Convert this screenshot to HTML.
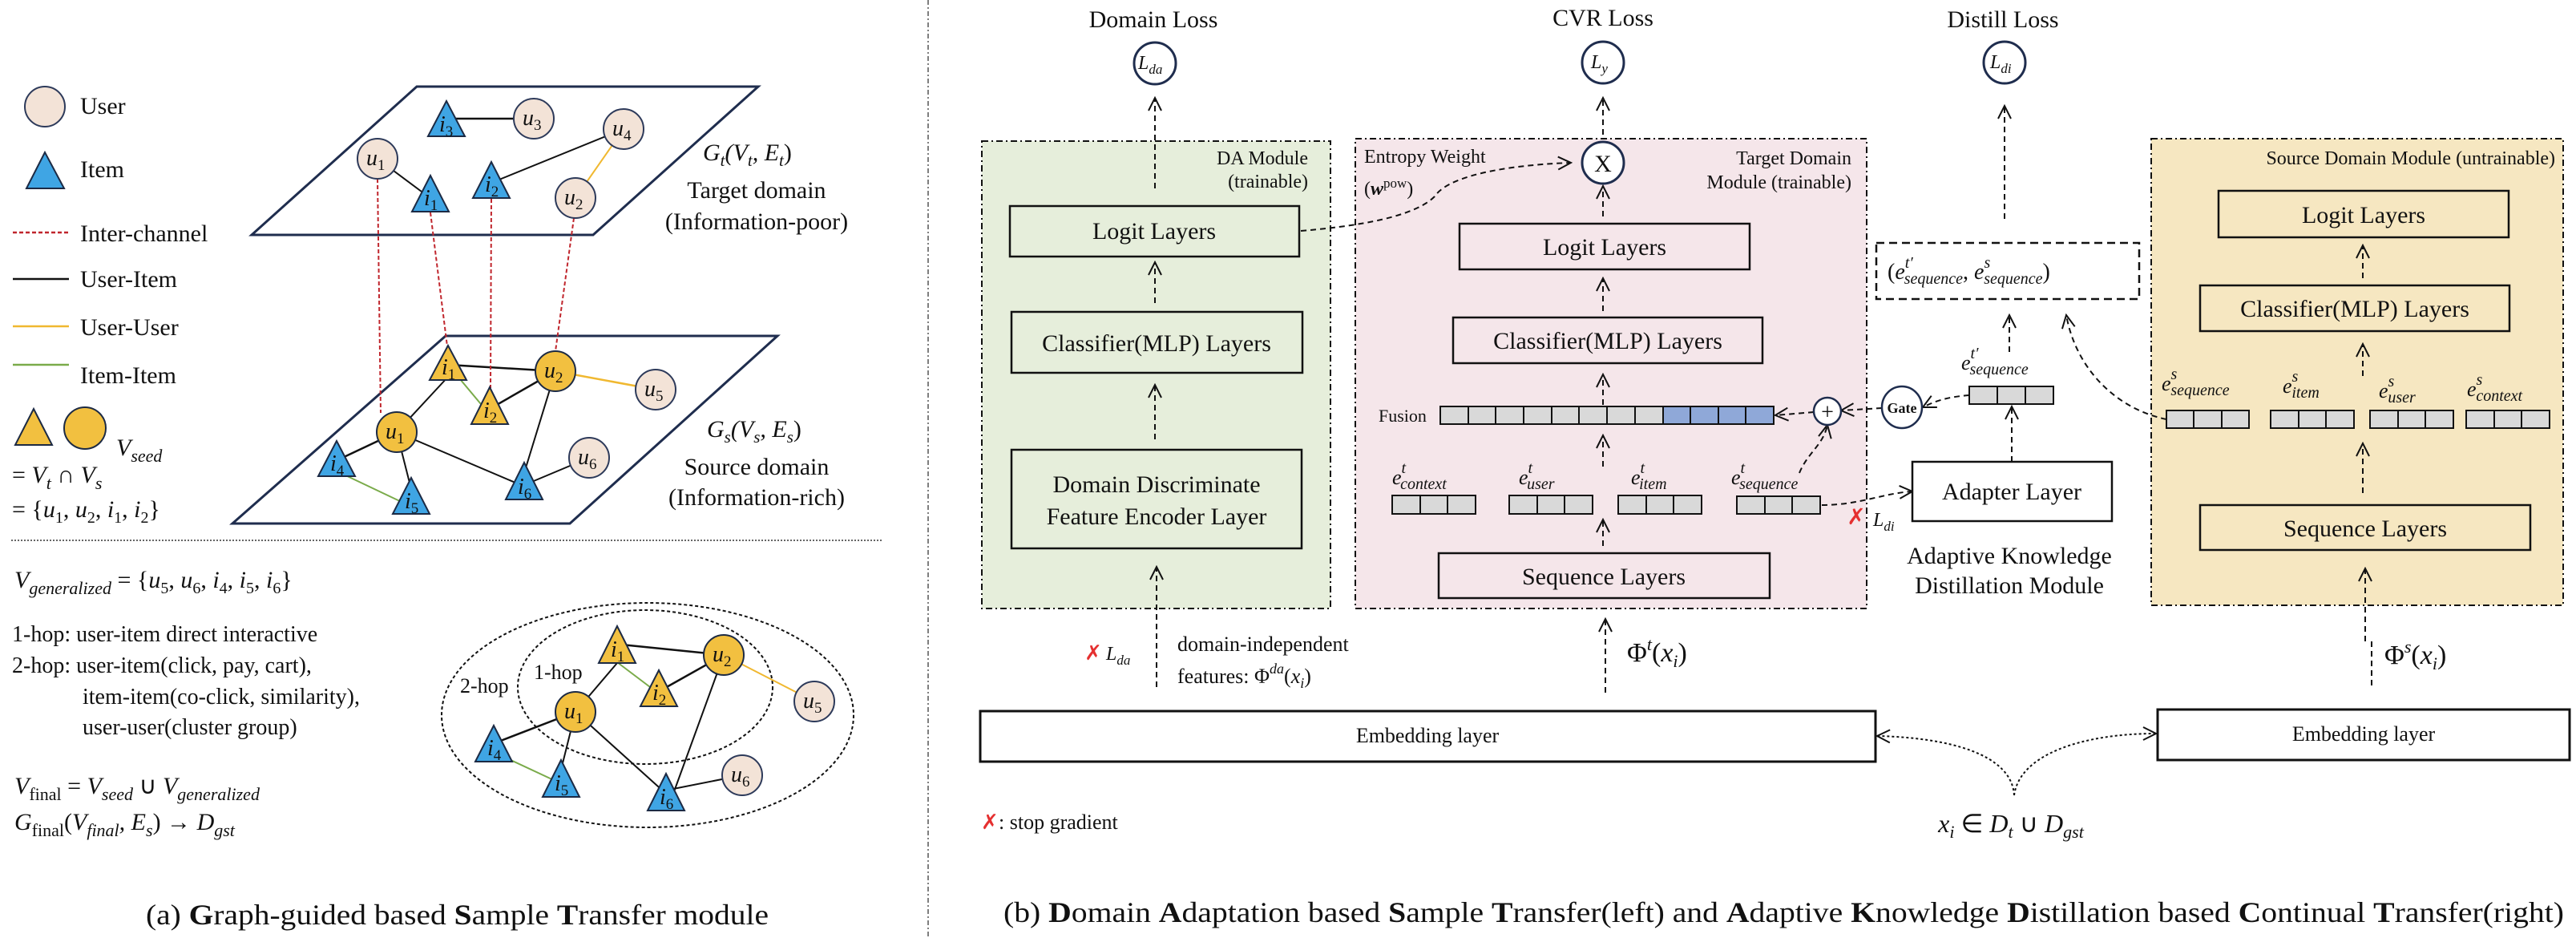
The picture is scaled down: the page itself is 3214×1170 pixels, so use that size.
<!DOCTYPE html>
<html><head><meta charset="utf-8"><style>
html,body{margin:0;padding:0;background:#fff}
svg{display:block}
text{font-family:"Liberation Serif",serif;fill:#111}
.it{font-style:italic}
</style></head><body>
<svg width="3214" height="1170" viewBox="0 0 3214 1170" xmlns="http://www.w3.org/2000/svg">
<defs>
<marker id="ah" viewBox="0 0 20 20" refX="18" refY="10" markerWidth="20" markerHeight="20" markerUnits="userSpaceOnUse" orient="auto"><path d="M2,2 L18,10 L2,18" fill="none" stroke="#111" stroke-width="2"/></marker>
</defs>

<!-- ============ LEFT PANEL ============ -->
<!-- legend -->
<ellipse cx="56" cy="133" rx="25" ry="25" fill="#f3e3d7" stroke="#2d3a5a" stroke-width="2"/>
<text x="100" y="142" font-size="30">User</text>
<polygon points="56,190 33,235 80,235" fill="#3fa5e4" stroke="#1c2a44" stroke-width="2"/>
<text x="100" y="221" font-size="30">Item</text>
<line x1="16" y1="290" x2="86" y2="290" stroke="#c0262d" stroke-width="2.5" stroke-dasharray="5,3"/>
<text x="100" y="301" font-size="30">Inter-channel</text>
<line x1="16" y1="348" x2="86" y2="348" stroke="#111" stroke-width="2.5"/>
<text x="100" y="358" font-size="30">User-Item</text>
<line x1="16" y1="407" x2="86" y2="407" stroke="#f0b830" stroke-width="2.5"/>
<text x="100" y="418" font-size="30">User-User</text>
<line x1="16" y1="455" x2="86" y2="455" stroke="#7aab4a" stroke-width="2.5"/>
<text x="100" y="478" font-size="30">Item-Item</text>
<polygon points="42,510 19,555 65,555" fill="#f2c040" stroke="#1c2a44" stroke-width="2"/>
<circle cx="106" cy="534" r="26" fill="#f2c040" stroke="#1c2a44" stroke-width="2"/>
<text x="145" y="568" font-size="30" class="it">V<tspan font-size="22" dy="8">seed</tspan></text>
<text x="15" y="602" font-size="30">= <tspan class="it">V</tspan><tspan class="it" font-size="22" dy="8">t</tspan><tspan dy="-8"> ∩ </tspan><tspan class="it">V</tspan><tspan class="it" font-size="22" dy="8">s</tspan></text>
<text x="15" y="645" font-size="30">= {<tspan class="it">u</tspan><tspan font-size="20" dy="7">1</tspan><tspan dy="-7">, </tspan><tspan class="it">u</tspan><tspan font-size="20" dy="7">2</tspan><tspan dy="-7">, </tspan><tspan class="it">i</tspan><tspan font-size="20" dy="7">1</tspan><tspan dy="-7">, </tspan><tspan class="it">i</tspan><tspan font-size="20" dy="7">2</tspan><tspan dy="-7">}</tspan></text>

<!-- planes -->
<polygon points="520,108 946,108 740,293 314,293" fill="none" stroke="#1f2d4e" stroke-width="3"/>
<polygon points="556,419 970,419 711,653 290,653" fill="none" stroke="#1f2d4e" stroke-width="3"/>

<!-- target edges -->
<line x1="557" y1="148" x2="666" y2="148" stroke="#111" stroke-width="2.5"/>
<line x1="471" y1="198" x2="530" y2="242" stroke="#111" stroke-width="2"/>
<line x1="613" y1="228" x2="778" y2="161" stroke="#111" stroke-width="2"/>
<line x1="778" y1="161" x2="718" y2="247" stroke="#f0b830" stroke-width="2"/>
<!-- source edges -->
<line x1="559" y1="455" x2="693" y2="463" stroke="#111" stroke-width="2.5"/>
<line x1="693" y1="463" x2="818" y2="486" stroke="#f0b830" stroke-width="2.5"/>
<line x1="559" y1="455" x2="605" y2="510" stroke="#7aab4a" stroke-width="2"/>
<line x1="611" y1="510" x2="693" y2="463" stroke="#111" stroke-width="2.5"/>
<line x1="559" y1="470" x2="495" y2="539" stroke="#111" stroke-width="2"/>
<line x1="495" y1="539" x2="425" y2="572" stroke="#111" stroke-width="2.5"/>
<line x1="495" y1="539" x2="513" y2="610" stroke="#111" stroke-width="2"/>
<line x1="425" y1="590" x2="505" y2="628" stroke="#7aab4a" stroke-width="2"/>
<line x1="495" y1="539" x2="650" y2="605" stroke="#111" stroke-width="2"/>
<line x1="693" y1="463" x2="654" y2="590" stroke="#111" stroke-width="2"/>
<line x1="654" y1="605" x2="735" y2="571" stroke="#111" stroke-width="2"/>
<!-- inter-channel -->
<g stroke="#c0262d" stroke-width="2" stroke-dasharray="5,3">
<line x1="471" y1="223" x2="475" y2="515"/>
<line x1="537" y1="265" x2="558" y2="432"/>
<line x1="613" y1="248" x2="612" y2="484"/>
<line x1="716" y1="272" x2="693" y2="438"/>
</g>

<!-- target nodes -->
<g font-size="28" class="it">
<polygon points="557,126 534,170 580,170" fill="#3fa5e4" stroke="#1c2a44" stroke-width="2"/>
<text x="548" y="164">i<tspan font-size="19" dy="6" font-style="normal">3</tspan></text>
<circle cx="666" cy="148" r="25" fill="#f3e3d7" stroke="#2d3a5a" stroke-width="2"/>
<text x="652" y="156">u<tspan font-size="19" dy="6" font-style="normal">3</tspan></text>
<circle cx="471" cy="198" r="25" fill="#f3e3d7" stroke="#2d3a5a" stroke-width="2"/>
<text x="457" y="206">u<tspan font-size="19" dy="6" font-style="normal">1</tspan></text>
<polygon points="537,219 514,264 560,264" fill="#3fa5e4" stroke="#1c2a44" stroke-width="2"/>
<text x="529" y="256">i<tspan font-size="19" dy="6" font-style="normal">1</tspan></text>
<polygon points="613,202 590,247 636,247" fill="#3fa5e4" stroke="#1c2a44" stroke-width="2"/>
<text x="605" y="239">i<tspan font-size="19" dy="6" font-style="normal">2</tspan></text>
<circle cx="778" cy="161" r="25" fill="#f3e3d7" stroke="#2d3a5a" stroke-width="2"/>
<text x="764" y="169">u<tspan font-size="19" dy="6" font-style="normal">4</tspan></text>
<circle cx="718" cy="247" r="25" fill="#f3e3d7" stroke="#2d3a5a" stroke-width="2"/>
<text x="704" y="255">u<tspan font-size="19" dy="6" font-style="normal">2</tspan></text>

<!-- source nodes -->
<polygon points="559,431 536,474 582,474" fill="#f2c040" stroke="#1c2a44" stroke-width="2"/>
<text x="551" y="467">i<tspan font-size="19" dy="6" font-style="normal">1</tspan></text>
<circle cx="693" cy="463" r="25" fill="#f2c040" stroke="#1c2a44" stroke-width="2"/>
<text x="679" y="471">u<tspan font-size="19" dy="6" font-style="normal">2</tspan></text>
<circle cx="818" cy="486" r="25" fill="#f3e3d7" stroke="#2d3a5a" stroke-width="2"/>
<text x="804" y="494">u<tspan font-size="19" dy="6" font-style="normal">5</tspan></text>
<polygon points="611,483 588,529 634,529" fill="#f2c040" stroke="#1c2a44" stroke-width="2"/>
<text x="603" y="521">i<tspan font-size="19" dy="6" font-style="normal">2</tspan></text>
<circle cx="495" cy="539" r="25" fill="#f2c040" stroke="#1c2a44" stroke-width="2"/>
<text x="481" y="547">u<tspan font-size="19" dy="6" font-style="normal">1</tspan></text>
<polygon points="420,550 397,594 443,594" fill="#3fa5e4" stroke="#1c2a44" stroke-width="2"/>
<text x="412" y="587">i<tspan font-size="19" dy="6" font-style="normal">4</tspan></text>
<polygon points="513,596 490,641 536,641" fill="#3fa5e4" stroke="#1c2a44" stroke-width="2"/>
<text x="505" y="634">i<tspan font-size="19" dy="6" font-style="normal">5</tspan></text>
<polygon points="654,577 631,623 677,623" fill="#3fa5e4" stroke="#1c2a44" stroke-width="2"/>
<text x="646" y="616">i<tspan font-size="19" dy="6" font-style="normal">6</tspan></text>
<circle cx="735" cy="571" r="25" fill="#f3e3d7" stroke="#2d3a5a" stroke-width="2"/>
<text x="721" y="579">u<tspan font-size="19" dy="6" font-style="normal">6</tspan></text>
</g>

<!-- plane labels -->
<text x="877" y="200" font-size="30" class="it">G<tspan font-size="21" dy="7">t</tspan><tspan dy="-7">(V</tspan><tspan font-size="21" dy="7">t</tspan><tspan dy="-7">, E</tspan><tspan font-size="21" dy="7">t</tspan><tspan dy="-7" font-style="normal">)</tspan></text>
<text x="944" y="247" font-size="30" text-anchor="middle">Target domain</text>
<text x="944" y="286" font-size="30" text-anchor="middle">(Information-poor)</text>
<text x="882" y="545" font-size="30" class="it">G<tspan font-size="21" dy="7">s</tspan><tspan dy="-7">(V</tspan><tspan font-size="21" dy="7">s</tspan><tspan dy="-7">, E</tspan><tspan font-size="21" dy="7">s</tspan><tspan dy="-7" font-style="normal">)</tspan></text>
<text x="944" y="592" font-size="30" text-anchor="middle">Source domain</text>
<text x="944" y="630" font-size="30" text-anchor="middle">(Information-rich)</text>

<!-- divider -->
<line x1="14" y1="674" x2="1100" y2="674" stroke="#333" stroke-width="1.5" stroke-dasharray="2,2"/>

<text x="18" y="733" font-size="30" class="it">V<tspan font-size="22" dy="8">generalized</tspan><tspan dy="-8" font-style="normal"> = {</tspan>u<tspan font-size="20" dy="7" font-style="normal">5</tspan><tspan dy="-7" font-style="normal">, </tspan>u<tspan font-size="20" dy="7" font-style="normal">6</tspan><tspan dy="-7" font-style="normal">, </tspan>i<tspan font-size="20" dy="7" font-style="normal">4</tspan><tspan dy="-7" font-style="normal">, </tspan>i<tspan font-size="20" dy="7" font-style="normal">5</tspan><tspan dy="-7" font-style="normal">, </tspan>i<tspan font-size="20" dy="7" font-style="normal">6</tspan><tspan dy="-7" font-style="normal">}</tspan></text>
<text x="15" y="800" font-size="28">1-hop: user-item direct interactive</text>
<text x="15" y="839" font-size="28">2-hop: user-item(click, pay, cart),</text>
<text x="103" y="878" font-size="28">item-item(co-click, similarity),</text>
<text x="103" y="916" font-size="28">user-user(cluster group)</text>
<text x="18" y="990" font-size="30" class="it">V<tspan font-size="22" dy="8" font-style="normal">final</tspan><tspan dy="-8" font-style="normal"> = </tspan>V<tspan font-size="22" dy="8">seed</tspan><tspan dy="-8" font-style="normal"> ∪ </tspan>V<tspan font-size="22" dy="8">generalized</tspan></text>
<text x="18" y="1035" font-size="30" class="it">G<tspan font-size="22" dy="8" font-style="normal">final</tspan><tspan dy="-8" font-style="normal">(</tspan>V<tspan font-size="22" dy="8">final</tspan><tspan dy="-8">, E</tspan><tspan font-size="22" dy="8">s</tspan><tspan dy="-8" font-style="normal">) → </tspan>D<tspan font-size="22" dy="8">gst</tspan></text>

<!-- hop diagram -->
<ellipse cx="808" cy="892" rx="257" ry="140" fill="none" stroke="#111" stroke-width="2" stroke-dasharray="4,3"/>
<ellipse cx="805" cy="857" rx="159" ry="96" fill="none" stroke="#111" stroke-width="2" stroke-dasharray="4,3"/>
<text x="666" y="847" font-size="26">1-hop</text>
<text x="574" y="864" font-size="26">2-hop</text>
<line x1="775" y1="804" x2="903" y2="817" stroke="#111" stroke-width="2.5"/>
<line x1="770" y1="826" x2="815" y2="860" stroke="#7aab4a" stroke-width="2"/>
<line x1="830" y1="858" x2="903" y2="817" stroke="#111" stroke-width="2.5"/>
<line x1="770" y1="827" x2="718" y2="888" stroke="#111" stroke-width="2"/>
<line x1="903" y1="817" x2="1016" y2="875" stroke="#f0b830" stroke-width="2"/>
<line x1="718" y1="888" x2="622" y2="925" stroke="#111" stroke-width="2.5"/>
<line x1="718" y1="888" x2="700" y2="960" stroke="#111" stroke-width="2"/>
<line x1="620" y1="940" x2="695" y2="975" stroke="#7aab4a" stroke-width="2"/>
<line x1="718" y1="888" x2="831" y2="990" stroke="#111" stroke-width="2"/>
<line x1="903" y1="817" x2="840" y2="990" stroke="#111" stroke-width="2"/>
<line x1="835" y1="985" x2="926" y2="967" stroke="#111" stroke-width="2"/>
<g font-size="28" class="it">
<polygon points="770,781 747,827 793,827" fill="#f2c040" stroke="#1c2a44" stroke-width="2"/>
<text x="762" y="819">i<tspan font-size="19" dy="6" font-style="normal">1</tspan></text>
<circle cx="903" cy="817" r="25" fill="#f2c040" stroke="#1c2a44" stroke-width="2"/>
<text x="889" y="825">u<tspan font-size="19" dy="6" font-style="normal">2</tspan></text>
<polygon points="822,836 799,881 845,881" fill="#f2c040" stroke="#1c2a44" stroke-width="2"/>
<text x="814" y="873">i<tspan font-size="19" dy="6" font-style="normal">2</tspan></text>
<circle cx="718" cy="888" r="25" fill="#f2c040" stroke="#1c2a44" stroke-width="2"/>
<text x="704" y="896">u<tspan font-size="19" dy="6" font-style="normal">1</tspan></text>
<circle cx="1016" cy="875" r="25" fill="#f3e3d7" stroke="#2d3a5a" stroke-width="2"/>
<text x="1002" y="883">u<tspan font-size="19" dy="6" font-style="normal">5</tspan></text>
<polygon points="616,905 593,950 639,950" fill="#3fa5e4" stroke="#1c2a44" stroke-width="2"/>
<text x="608" y="942">i<tspan font-size="19" dy="6" font-style="normal">4</tspan></text>
<polygon points="700,948 677,994 723,994" fill="#3fa5e4" stroke="#1c2a44" stroke-width="2"/>
<text x="692" y="986">i<tspan font-size="19" dy="6" font-style="normal">5</tspan></text>
<polygon points="831,965 808,1011 854,1011" fill="#3fa5e4" stroke="#1c2a44" stroke-width="2"/>
<text x="823" y="1003">i<tspan font-size="19" dy="6" font-style="normal">6</tspan></text>
<circle cx="926" cy="967" r="25" fill="#f3e3d7" stroke="#2d3a5a" stroke-width="2"/>
<text x="912" y="975">u<tspan font-size="19" dy="6" font-style="normal">6</tspan></text>
</g>

<text x="182" y="1153" font-size="36" textLength="777" lengthAdjust="spacingAndGlyphs">(a) <tspan font-weight="bold">G</tspan>raph-guided based <tspan font-weight="bold">S</tspan>ample <tspan font-weight="bold">T</tspan>ransfer module</text>

<!-- vertical separator -->
<line x1="1158" y1="0" x2="1158" y2="1170" stroke="#555" stroke-width="1.5" stroke-dasharray="6,3,2,3"/>

<!-- ============ RIGHT PANEL ============ -->
<!-- module backgrounds -->
<rect x="1225" y="176" width="435" height="583" fill="#e6eedb" stroke="#111" stroke-width="2" stroke-dasharray="8,4,2,4"/>
<rect x="1691" y="173" width="638" height="586" fill="#f5e6ea" stroke="#111" stroke-width="2" stroke-dasharray="8,4,2,4"/>
<rect x="2684" y="173" width="514" height="582" fill="#f6e7c1" stroke="#111" stroke-width="2" stroke-dasharray="8,4,2,4"/>

<!-- losses -->
<text x="1439" y="34" font-size="30" text-anchor="middle">Domain Loss</text>
<circle cx="1441" cy="79" r="26" fill="#fff" stroke="#1f2d4e" stroke-width="3"/>
<text x="1420" y="86" font-size="24" class="it">L<tspan font-size="17" dy="6">da</tspan></text>
<text x="2000" y="32" font-size="30" text-anchor="middle">CVR Loss</text>
<circle cx="2000" cy="78" r="26" fill="#fff" stroke="#1f2d4e" stroke-width="3"/>
<text x="1985" y="85" font-size="24" class="it">L<tspan font-size="17" dy="6">y</tspan></text>
<text x="2499" y="34" font-size="30" text-anchor="middle">Distill Loss</text>
<circle cx="2501" cy="78" r="26" fill="#fff" stroke="#1f2d4e" stroke-width="3"/>
<text x="2483" y="85" font-size="24" class="it">L<tspan font-size="17" dy="6">di</tspan></text>

<!-- dashed arrows -->
<g stroke="#111" stroke-width="2" stroke-dasharray="7,5" fill="none" marker-end="url(#ah)">
<line x1="1441" y1="235" x2="1441" y2="122"/>
<line x1="1441" y1="378" x2="1441" y2="327"/>
<line x1="1441" y1="548" x2="1441" y2="480"/>
<line x1="1443" y1="857" x2="1443" y2="707"/>
<line x1="2000" y1="168" x2="2000" y2="122"/>
<line x1="2000" y1="270" x2="2000" y2="232"/>
<line x1="2000" y1="388" x2="2000" y2="347"/>
<line x1="2000" y1="505" x2="2000" y2="467"/>
<line x1="2000" y1="582" x2="2000" y2="543"/>
<line x1="2000" y1="681" x2="2000" y2="648"/>
<line x1="2003" y1="864" x2="2003" y2="772"/>
<line x1="2501" y1="273" x2="2501" y2="132"/>
<line x1="2507" y1="439" x2="2507" y2="393"/>
<line x1="2510" y1="576" x2="2510" y2="507"/>
<line x1="2948" y1="347" x2="2948" y2="306"/>
<line x1="2948" y1="469" x2="2948" y2="429"/>
<line x1="2948" y1="615" x2="2948" y2="553"/>
<line x1="2951" y1="800" x2="2951" y2="709"/>
<path d="M1623,288 C1720,280 1770,265 1790,245 C1810,215 1900,205 1960,203"/>
<path d="M2703,523 C2640,510 2590,460 2578,393"/>
<path d="M2457,493 C2430,495 2415,500 2399,508"/>
<line x1="2348" y1="509" x2="2297" y2="512"/>
<line x1="2263" y1="514" x2="2215" y2="518"/>
<path d="M2245,590 C2255,565 2275,555 2280,530"/>
<path d="M2273,630 C2320,630 2350,615 2386,613"/>
</g>
<g stroke="#111" stroke-width="2" stroke-dasharray="3,3" fill="none" marker-end="url(#ah)">
<path d="M2513,992 C2510,940 2430,920 2342,918"/>
<path d="M2513,992 C2520,940 2600,915 2690,915"/>
</g>
<line x1="2959" y1="800" x2="2959" y2="857" stroke="#111" stroke-width="2" stroke-dasharray="7,5"/>

<!-- DA module -->
<text x="1632" y="205" font-size="24" text-anchor="end">DA Module</text>
<text x="1632" y="234" font-size="24" text-anchor="end">(trainable)</text>
<rect x="1260" y="257" width="361" height="63" fill="none" stroke="#111" stroke-width="2.5"/>
<text x="1440" y="298" font-size="30" text-anchor="middle">Logit Layers</text>
<rect x="1262" y="389" width="363" height="76" fill="none" stroke="#111" stroke-width="2.5"/>
<text x="1443" y="438" font-size="30" text-anchor="middle">Classifier(MLP) Layers</text>
<rect x="1262" y="561" width="362" height="123" fill="none" stroke="#111" stroke-width="2.5"/>
<text x="1443" y="614" font-size="30" text-anchor="middle">Domain Discriminate</text>
<text x="1443" y="654" font-size="30" text-anchor="middle">Feature Encoder Layer</text>

<!-- target module -->
<text x="1702" y="203" font-size="24">Entropy Weight</text>
<text x="1702" y="243" font-size="24">(<tspan font-weight="bold" class="it">w</tspan><tspan font-size="17" dy="-9">pow</tspan><tspan dy="9">)</tspan></text>
<text x="2310" y="205" font-size="24" text-anchor="end">Target Domain</text>
<text x="2310" y="235" font-size="24" text-anchor="end">Module (trainable)</text>
<circle cx="2000" cy="203" r="26" fill="#fff" stroke="#1f2d4e" stroke-width="3"/>
<text x="2000" y="214" font-size="30" text-anchor="middle">X</text>
<rect x="1821" y="279" width="362" height="57" fill="none" stroke="#111" stroke-width="2.5"/>
<text x="2002" y="318" font-size="30" text-anchor="middle">Logit Layers</text>
<rect x="1813" y="396" width="386" height="57" fill="none" stroke="#111" stroke-width="2.5"/>
<text x="2006" y="435" font-size="30" text-anchor="middle">Classifier(MLP) Layers</text>
<text x="1720" y="526" font-size="22">Fusion</text>
<g stroke="#111" stroke-width="2">
<rect x="1797" y="507" width="278" height="22" fill="#d9d9d9"/>
<rect x="2075" y="507" width="138" height="22" fill="#8fa8d8"/>
<path d="M1832,507v22M1866,507v22M1901,507v22M1936,507v22M1970,507v22M2005,507v22M2040,507v22M2075,507v22M2109,507v22M2144,507v22M2178,507v22"/>
</g>
<circle cx="2280" cy="513" r="17" fill="#fff" stroke="#1f2d4e" stroke-width="2.5"/>
<text x="2280" y="523" font-size="28" text-anchor="middle">+</text>

<!-- target embeddings -->
<g font-size="26" class="it">
<text x="1737" y="604">e<tspan font-size="20" dy="-14">t</tspan><tspan font-size="20" dx="-7" dy="20">context</tspan></text>
<text x="1895" y="604">e<tspan font-size="20" dy="-14">t</tspan><tspan font-size="20" dx="-7" dy="20">user</tspan></text>
<text x="2035" y="604">e<tspan font-size="20" dy="-14">t</tspan><tspan font-size="20" dx="-7" dy="20">item</tspan></text>
<text x="2160" y="604">e<tspan font-size="20" dy="-14">t</tspan><tspan font-size="20" dx="-7" dy="20">sequence</tspan></text>
</g>
<g stroke="#111" stroke-width="2" fill="#d9d9d9">
<rect x="1737" y="618" width="104" height="23"/><path d="M1772,618v23M1806,618v23"/>
<rect x="1883" y="618" width="104" height="23"/><path d="M1918,618v23M1952,618v23"/>
<rect x="2019" y="618" width="104" height="23"/><path d="M2054,618v23M2088,618v23"/>
<rect x="2167" y="619" width="104" height="22"/><path d="M2202,619v22M2236,619v22"/>
</g>
<rect x="1795" y="690" width="413" height="56" fill="none" stroke="#111" stroke-width="2.5"/>
<text x="2001" y="729" font-size="30" text-anchor="middle">Sequence Layers</text>

<!-- distillation -->
<rect x="2341" y="303" width="328" height="70" fill="#fff" stroke="#111" stroke-width="2.5" stroke-dasharray="10,6"/>
<text x="2355" y="348" font-size="28" class="it"><tspan font-style="normal">(</tspan>e<tspan font-size="20" dy="-14">t′</tspan><tspan font-size="20" dx="-11" dy="20">sequence</tspan><tspan dy="-6" font-style="normal">, </tspan>e<tspan font-size="20" dy="-14">s</tspan><tspan font-size="20" dx="-8" dy="20">sequence</tspan><tspan dy="-6" font-style="normal">)</tspan></text>
<text x="2447" y="461" font-size="26" class="it">e<tspan font-size="20" dy="-14">t′</tspan><tspan font-size="20" dx="-11" dy="20">sequence</tspan></text>
<g stroke="#111" stroke-width="2" fill="#d9d9d9">
<rect x="2457" y="482" width="105" height="22"/><path d="M2492,482v22M2527,482v22"/>
</g>
<ellipse cx="2373" cy="508" rx="25" ry="26" fill="#fff" stroke="#1f2d4e" stroke-width="2.5"/>
<text x="2373" y="515" font-size="18" text-anchor="middle" font-weight="bold">Gate</text>
<rect x="2386" y="576" width="249" height="74" fill="#fff" stroke="#111" stroke-width="2.5"/>
<text x="2510" y="623" font-size="30" text-anchor="middle">Adapter Layer</text>
<text x="2316" y="654" font-size="28" fill="#e53030" text-anchor="middle" style="fill:#e53030">✗</text>
<text x="2337" y="656" font-size="24" class="it">L<tspan font-size="17" dy="6">di</tspan></text>
<text x="2507" y="703" font-size="30" text-anchor="middle">Adaptive Knowledge</text>
<text x="2507" y="740" font-size="30" text-anchor="middle">Distillation Module</text>

<!-- source module -->
<text x="3188" y="205" font-size="24" text-anchor="end">Source Domain Module (untrainable)</text>
<rect x="2768" y="238" width="362" height="58" fill="none" stroke="#111" stroke-width="2.5"/>
<text x="2949" y="278" font-size="30" text-anchor="middle">Logit Layers</text>
<rect x="2745" y="356" width="386" height="57" fill="none" stroke="#111" stroke-width="2.5"/>
<text x="2938" y="395" font-size="30" text-anchor="middle">Classifier(MLP) Layers</text>
<g font-size="26" class="it">
<text x="2697" y="487">e<tspan font-size="20" dy="-14">s</tspan><tspan font-size="20" dx="-8" dy="20">sequence</tspan></text>
<text x="2848" y="490">e<tspan font-size="20" dy="-14">s</tspan><tspan font-size="20" dx="-8" dy="20">item</tspan></text>
<text x="2968" y="496">e<tspan font-size="20" dy="-14">s</tspan><tspan font-size="20" dx="-8" dy="20">user</tspan></text>
<text x="3078" y="494">e<tspan font-size="20" dy="-14">s</tspan><tspan font-size="20" dx="-8" dy="20">context</tspan></text>
</g>
<g stroke="#111" stroke-width="2" fill="#d9d9d9">
<rect x="2703" y="512" width="103" height="22"/><path d="M2737,512v22M2772,512v22"/>
<rect x="2833" y="512" width="104" height="22"/><path d="M2868,512v22M2902,512v22"/>
<rect x="2957" y="512" width="104" height="22"/><path d="M2992,512v22M3026,512v22"/>
<rect x="3077" y="512" width="104" height="22"/><path d="M3112,512v22M3146,512v22"/>
</g>
<rect x="2745" y="630" width="412" height="56" fill="none" stroke="#111" stroke-width="2.5"/>
<text x="2951" y="669" font-size="30" text-anchor="middle">Sequence Layers</text>

<!-- bottom -->
<text x="1364" y="823" font-size="26" text-anchor="middle" style="fill:#e53030">✗</text>
<text x="1380" y="823" font-size="24" class="it">L<tspan font-size="17" dy="6">da</tspan></text>
<text x="1469" y="812" font-size="26">domain-independent</text>
<text x="1469" y="852" font-size="26">features: Φ<tspan font-size="18" dy="-12" class="it">da</tspan><tspan dy="12">(</tspan><tspan class="it">x</tspan><tspan font-size="18" dy="6" class="it">i</tspan><tspan dy="-6">)</tspan></text>
<text x="2030" y="825" font-size="34">Φ<tspan font-size="22" dy="-14" class="it">t</tspan><tspan dy="14">(</tspan><tspan class="it">x</tspan><tspan font-size="22" dy="7" class="it">i</tspan><tspan dy="-7">)</tspan></text>
<text x="2975" y="828" font-size="34">Φ<tspan font-size="22" dy="-14" class="it">s</tspan><tspan dy="14">(</tspan><tspan class="it">x</tspan><tspan font-size="22" dy="7" class="it">i</tspan><tspan dy="-7">)</tspan></text>
<rect x="1223" y="887" width="1117" height="63" fill="#fff" stroke="#111" stroke-width="3"/>
<text x="1781" y="926" font-size="26" text-anchor="middle">Embedding layer</text>
<rect x="2692" y="885" width="514" height="63" fill="#fff" stroke="#111" stroke-width="3"/>
<text x="2949" y="924" font-size="26" text-anchor="middle">Embedding layer</text>
<text x="1224" y="1034" font-size="26" style="fill:#e53030">✗</text>
<text x="1246" y="1034" font-size="26"> : stop gradient</text>
<text x="2509" y="1038" font-size="32" text-anchor="middle"><tspan class="it">x</tspan><tspan class="it" font-size="22" dy="7">i</tspan><tspan dy="-7"> ∈ </tspan><tspan class="it">D</tspan><tspan class="it" font-size="22" dy="7">t</tspan><tspan dy="-7"> ∪ </tspan><tspan class="it">D</tspan><tspan class="it" font-size="22" dy="7">gst</tspan></text>

<text x="1252" y="1150" font-size="36" textLength="1947" lengthAdjust="spacingAndGlyphs">(b) <tspan font-weight="bold">D</tspan>omain <tspan font-weight="bold">A</tspan>daptation based <tspan font-weight="bold">S</tspan>ample <tspan font-weight="bold">T</tspan>ransfer(left) and <tspan font-weight="bold">A</tspan>daptive <tspan font-weight="bold">K</tspan>nowledge <tspan font-weight="bold">D</tspan>istillation based <tspan font-weight="bold">C</tspan>ontinual <tspan font-weight="bold">T</tspan>ransfer(right)</text>
</svg>
</body></html>
